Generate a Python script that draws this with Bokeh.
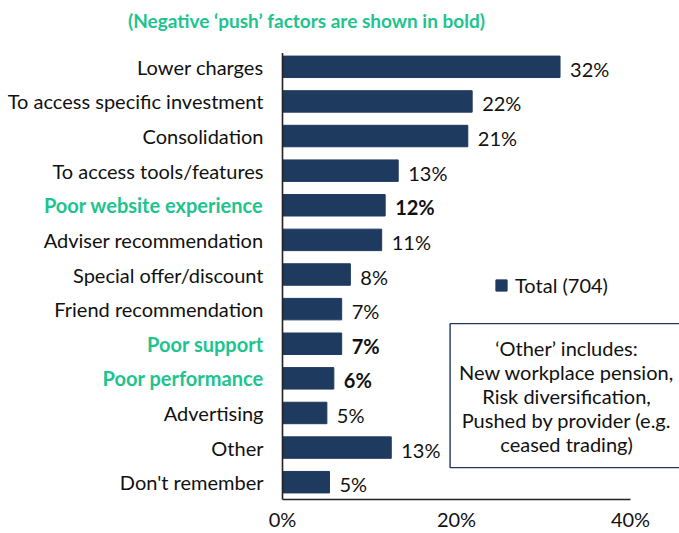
from bokeh.plotting import figure
from bokeh.models import ColumnDataSource, Label, Range1d
from bokeh.core.properties import field, value
from bokeh.embed import file_html
from bokeh.resources import INLINE

categories = ["Lower charges", "To access specific investment", "Consolidation",
              "To access tools/features", "Poor website experience", "Adviser recommendation",
              "Special offer/discount", "Friend recommendation", "Poor support",
              "Poor performance", "Advertising", "Other", "Don't remember"]
values = [31.9, 21.8, 21.3, 13.3, 11.8, 11.4, 7.8, 6.8, 6.8, 5.9, 5.1, 12.5, 5.4]
value_labels = ["32%", "22%", "21%", "13%", "12%", "11%", "8%", "7%", "7%", "6%", "5%", "13%", "5%"]
negative = [False, False, False, False, True, False, False, False, True, True, False, False, False]
x_ticks = [0, 20, 40]
x_tick_labels = ["0%", "20%", "40%"]
series_name = "Total (704)"
title_text = "(Negative \u2018push\u2019 factors are shown in bold)"
note_text = ("\u2018Other\u2019 includes:\nNew workplace pension,\nRisk diversification,\n"
             "Pushed by provider (e.g.\nceased trading)")

FONT = "Lato"
FS = "20px"
BAR = "#1F3A5F"
GREEN = "#1DC48E"
TXT = "#111111"

n = len(categories)
src = ColumnDataSource(dict(
    y=[n - 0.5 - i for i in range(n)],
    value=values,
    cat=categories,
    vlab=value_labels,
    ccolor=[GREEN if b else TXT for b in negative],
    fstyle=["bold" if b else "normal" for b in negative],
))

W, H = 679, 533
# plotting frame covers the whole canvas; the value axis runs from 0 to 40
p = figure(width=W, height=H, x_range=Range1d(-32.414, 45.632), y_range=Range1d(-0.9822, 14.4156),
           output_backend="svg", toolbar_location=None, x_axis_type=None, y_axis_type=None,
           min_border=0, min_border_left=0, min_border_right=0, min_border_top=0,
           min_border_bottom=0)
p.outline_line_color = None
p.grid.visible = False

p.hbar(y="y", left=0, right="value", height=0.62, source=src, fill_color=BAR,
       line_color=BAR, legend_label=series_name)

# axis lines
p.segment(x0=[x_ticks[0], x_ticks[0]], y0=[0, 0], x1=[x_ticks[0], x_ticks[-1]], y1=[n - 0.1, 0],
          line_color="#222222", line_width=1.6)

# x tick labels
tick_src = ColumnDataSource(dict(x=x_ticks, y=[-0.55] * len(x_ticks), t=x_tick_labels))
p.text(x="x", y="y", text="t", source=tick_src, text_align="center",
       text_baseline="middle", text_font=value(FONT), text_font_size=FS, text_color=TXT)

# category labels
p.text(x=0, y="y", text="cat", source=src, x_offset=-19, text_align="right",
       text_baseline="middle", text_color=field("ccolor"), text_font_style=field("fstyle"),
       text_font=value(FONT), text_font_size=FS)
# value labels
p.text(x="value", y="y", text="vlab", source=src, x_offset=10, y_offset=2,
       text_align="left", text_baseline="middle", text_color=TXT,
       text_font_style=field("fstyle"), text_font=value(FONT), text_font_size=FS)

# title
p.add_layout(Label(x=2.76, y=13.838, text=title_text, text_align="center",
                   text_baseline="middle", text_color=GREEN, text_font_style="bold",
                   text_font=FONT, text_font_size="19px"))

# note box
p.add_layout(Label(x=32.65, y=3.0, text=note_text, text_align="center",
                   text_baseline="middle", text_color=TXT, text_font=FONT,
                   text_font_size=FS, text_line_height=1.0,
                   border_line_color="#1F3A5F", border_line_width=1.4,
                   background_fill_color="white",
                   padding=dict(left=9, right=9, top=12, bottom=12)))

# legend
lg = p.legend[0]
lg.location = (494, 236)
lg.padding = 0
lg.margin = 0
lg.border_line_alpha = 0
lg.background_fill_alpha = 0
lg.glyph_width = 14
lg.glyph_height = 14
lg.label_height = 20
lg.label_standoff = 7
lg.label_text_font = FONT
lg.label_text_font_size = FS
lg.label_text_color = TXT

open("out.html", "w").write(file_html(p, INLINE))
